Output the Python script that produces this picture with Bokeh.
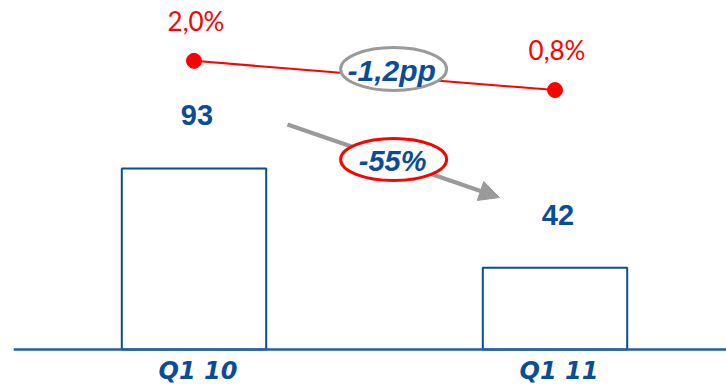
from bokeh.plotting import figure
from bokeh.models import Range1d, Arrow, NormalHead, ColumnDataSource, Span
from bokeh.core.properties import value
from bokeh.embed import file_html
from bokeh.resources import INLINE

# Quarterly volume (bars) and share in percent (red line)
quarters = ["Q1 10", "Q1 11"]
volume = [93, 42]
share_pct = [2.0, 0.8]

BLUE = "#0B4C97"
AXIS_BLUE = "#1F5FA8"
RED = "#FF0000"
GREY = "#9A9A9A"


def comma(v, digits=1):
    return f"{v:.{digits}f}".replace(".", ",")


xs = [i + 0.5 for i in range(len(quarters))]
vol_change = (volume[1] - volume[0]) / volume[0] * 100
pp_change = share_pct[1] - share_pct[0]

bars = ColumnDataSource(dict(x=xs, vol=volume, lbl=[str(v) for v in volume],
                             cat=quarters, base=[0] * len(xs)))
line = ColumnDataSource(dict(x=xs, pct=share_pct, lbl=[comma(v) + "%" for v in share_pct]))

# the plot frame reaches the bottom edge, so the quarter names below the
# baseline sit inside it
p = figure(width=726, height=386, output_backend="svg", toolbar_location=None,
           x_range=Range1d(0, 713 / 361), y_range=Range1d(-19.0, 179.3),
           x_axis_location=None, y_axis_location=None,
           min_border_left=13, min_border_right=0, min_border_top=0, min_border_bottom=0)
p.extra_y_ranges = {"pct": Range1d(-11.38, 4.48)}
p.outline_line_color = None
p.xgrid.visible = False
p.ygrid.visible = False
p.background_fill_color = "white"
p.border_fill_color = "white"

# baseline
p.add_layout(Span(location=0, dimension="width", line_color=AXIS_BLUE, line_width=2.5))

# bars
p.vbar(x="x", top="vol", bottom=0, width=0.4, source=bars,
       fill_color="white", line_color=BLUE, line_width=2)

# quarter names under the baseline
p.text(x="x", y="base", text="cat", source=bars, x_offset=4, y_offset=21,
       text_align="center", text_baseline="middle", text_color=BLUE,
       text_font=value("DejaVu Sans"), text_font_style="bold italic",
       text_font_size="24px")

# change arrow between the bars (kept beneath the ellipse badge)
arrow = Arrow(x_start=0.759, y_start=115.6, x_end=1.346, y_end=78.1,
              line_color=GREY, line_width=4,
              end=NormalHead(size=20, fill_color=GREY, line_color=GREY),
              level="underlay")
p.add_layout(arrow)

# share line
p.line(x="x", y="pct", source=line, y_range_name="pct", line_color=RED, line_width=2)
p.scatter(x="x", y="pct", source=line, y_range_name="pct", size=15,
          fill_color=RED, line_color=RED)

# badges
p.ellipse(x=[1.053], y=[144.1], width=[106], height=[43], width_units="screen",
          height_units="screen", fill_color="white", line_color=GREY, line_width=3)
p.ellipse(x=[1.053], y=[97.6], width=[106], height=[42], width_units="screen",
          height_units="screen", fill_color="white", line_color=RED, line_width=3)

p.text(x=[1.053], y=[144.1], text=[comma(pp_change) + "pp"], x_offset=-2, y_offset=1,
       text_align="center", text_baseline="middle", text_color=BLUE,
       text_font=value("Liberation Sans"), text_font_style="bold italic",
       text_font_size="30px")
p.text(x=[1.053], y=[97.6], text=[comma(vol_change, 0) + "%"], x_offset=-1, y_offset=1,
       text_align="center", text_baseline="middle", text_color=BLUE,
       text_font=value("Liberation Sans"), text_font_style="bold italic",
       text_font_size="29px")

# value labels
p.text(x="x", y="vol", text="lbl", source=bars, x_offset=3, y_offset=-53,
       text_align="center", text_baseline="middle", text_color=BLUE,
       text_font=value("Liberation Sans"), text_font_style="bold",
       text_font_size="29px")
p.text(x="x", y="pct", text="lbl", source=line, y_range_name="pct",
       x_offset=2, y_offset=-40, text_align="center", text_baseline="middle",
       text_color=RED, text_font=value("Lato"), text_font_size="26px")

open("out.html", "w").write(file_html(p, INLINE))
